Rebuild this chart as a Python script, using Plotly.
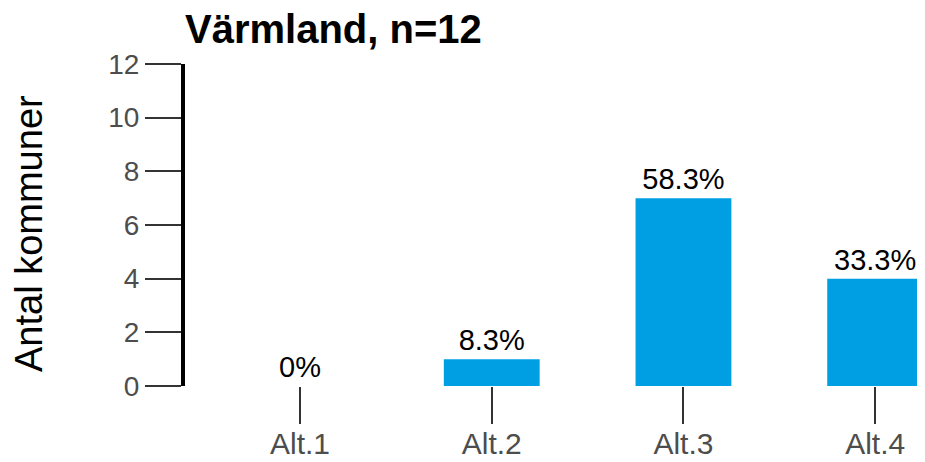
import plotly.graph_objects as go

categories = ["Alt.1", "Alt.2", "Alt.3", "Alt.4"]
counts = [0, 1, 7, 4]
pct_labels = ["0%", "8.3%", "58.3%", "33.3%"]
y_ticks = [0, 2, 4, 6, 8, 10, 12]
title_text = "Värmland, n=12"
y_title = "Antal kommuner"

FONT = "Liberation Sans, Arial, sans-serif"

# the page body adds an 8px margin, so the figure is 8px smaller each way
W, H = 917, 454
L, T, B = 177, 56, 76
plot_w, plot_h = W - L, H - T - B

fig = go.Figure(go.Bar(
    x=categories,
    y=counts,
    text=pct_labels,
    textposition="outside",
    textfont=dict(size=29, color="black", family=FONT),
    marker=dict(color="#009FE3", line=dict(width=0)),
    width=0.5,
    cliponaxis=False,
))

fig.update_layout(
    width=W, height=H,
    margin=dict(l=L, r=0, t=T, b=B),
    plot_bgcolor="white", paper_bgcolor="white",
    showlegend=False,
    font=dict(family=FONT),
    title=dict(text="<b>" + title_text + "</b>", x=L / W, xanchor="left",
               y=1 - 21 / H, yanchor="middle",
               font=dict(size=40, color="black", family=FONT)),
)

# y-axis title as an annotation so it can sit a little below the plot's middle
fig.add_annotation(
    text=y_title, textangle=-90, showarrow=False,
    xref="paper", yref="paper",
    x=(21 - L) / plot_w, y=(plot_h + T - 226) / plot_h,
    xanchor="center", yanchor="middle",
    font=dict(size=38, color="black", family=FONT),
)

fig.update_xaxes(
    range=[-0.6, 3.26], automargin=False,
    showline=False, showgrid=False, zeroline=False,
    ticks="outside", ticklen=37, tickwidth=2, tickcolor="#333333",
    ticklabelstandoff=-6,
    tickfont=dict(size=30, color="#4d4d4d", family=FONT),
)

fig.update_yaxes(
    range=[0, 12], automargin=False,
    tickvals=y_ticks,
    showline=True, linewidth=4, linecolor="black",
    showgrid=False, zeroline=False,
    ticks="outside", ticklen=36, tickwidth=2, tickcolor="#333333",
    tickfont=dict(size=28, color="#4d4d4d", family=FONT),
)

fig.write_html("out.html")
